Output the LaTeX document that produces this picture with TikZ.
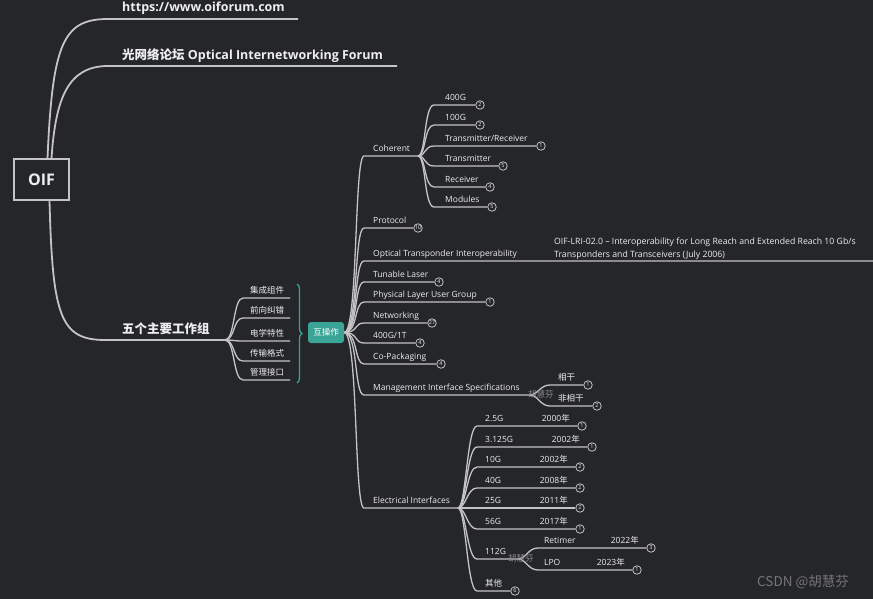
\documentclass[tikz,border=0pt]{standalone}
\usepackage{fontspec}
\setmainfont{Open Sans}
\newfontfamily\cjk{Noto Sans CJK SC}
\usetikzlibrary{calc,decorations.pathreplacing}
\definecolor{oifBack}{HTML}{25262A}
\definecolor{oifLine}{HTML}{C4C4C4}
\definecolor{oifText}{HTML}{EEEEEE}
\definecolor{oifTeal}{HTML}{3AA597}
\definecolor{oifMark}{HTML}{8C8C8C}

\begin{document}
\begin{tikzpicture}[x=1pt,y=-1pt,
    topic/.style={anchor=base west,inner sep=0pt,text=oifText,font=\fontsize{8.5}{10}\selectfont},
    zhtopic/.style={topic,font=\cjk\fontsize{8.5}{10}\selectfont},
    big/.style={anchor=base west,inner sep=0pt,text=oifText,font=\bfseries\fontsize{12.5}{15}\selectfont},
    badge/.style={circle,draw=oifLine,fill=oifBack,line width=0.8pt,minimum size=8.5pt,
                  inner sep=0pt,text=oifText,font=\fontsize{5.5}{5.5}\selectfont},
    link/.style={oifLine,line width=1.3pt},
    trunk/.style={oifLine,line width=1.8pt},
    wmark/.style={anchor=base west,inner sep=0pt,text=oifMark,font=\cjk\fontsize{8.5}{10}\selectfont}]
  \useasboundingbox (0,0) rectangle (873,599);
  \fill[oifBack] (0,0) rectangle (873,599);

  % root and its three branches
  \node[draw=oifLine,line width=1.3pt,minimum width=55pt,minimum height=41pt,inner sep=0pt,
        text=oifText,font=\bfseries\fontsize{16}{19}\selectfont] (oif) at (41.5,179.5) {OIF};
  \coordinate (urlS) at (108,19);  \coordinate (urlE) at (298,19);
  \node[big] (url) at (122,12) {https://www.oiforum.com};
  \draw[trunk] ([xshift=6pt]oif.north) .. controls +(5,-115) and +(-45,0) .. (urlS) -- (urlE);
  \coordinate (nameS) at (108,66); \coordinate (nameE) at (397,66);
  \node[big] (name) at (122,60) {{\cjk 光网络论坛} Optical Internetworking Forum};
  \draw[trunk] ([xshift=10pt]oif.north) .. controls +(4,-60) and +(-40,0) .. (nameS) -- (nameE);
  \coordinate (wgS) at (105,340);  \coordinate (wgE) at (225,340);
  \node[big,font=\cjk\bfseries\fontsize{12.5}{15}\selectfont] (wg) at (122,333) {五个主要工作组};
  \draw[trunk] ([xshift=8pt]oif.south) .. controls +(3,115) and +(-45,0) .. (wgS) -- (wgE);

  % five groups, brace, interop
  \foreach \y/\t [count=\i] in {298/集成组件,318/前向纠错,341/电学特性,361/传输格式,380/管理接口}{
    \coordinate (g\i) at (243,\y);
    \coordinate (ge\i) at (290,\y);
    \node[zhtopic] (gt\i) at (250,\y-5) {\t};
    \draw[link] (wgE) .. controls +(10,0) and +(-10,0) .. (g\i) -- (ge\i);
  }
  \coordinate (brT) at (297,284); \coordinate (brB) at (297,383);
  \draw[oifTeal,line width=1.3pt,decorate,decoration={brace,amplitude=5pt}] (brT) -- (brB);
  \node[fill=oifTeal,rounded corners=3pt,minimum width=36pt,minimum height=21pt,inner sep=0pt,
        text=white,font=\cjk\fontsize{8.5}{10}\selectfont] (iop) at (326,332.5) {互操作};

  % Coherent
  \coordinate (cohS) at (364,156); \coordinate (cohE) at (418,156);
  \node[topic] (coh) at (373,151.5) {Coherent};
  \draw[link] (iop.east) .. controls +(14,0) and +(-10,0) .. (cohS) -- (cohE);
  \foreach \y/\t/\bx/\n [count=\i] in {105/400G/480/2,125/100G/480/2,146/{Transmitter/Receiver}/541/1,
                                       166/Transmitter/503/5,187/Receiver/490/4,207/Modules/492/5}{
    \coordinate (coh\i) at (434,\y);
    \node[topic] (coht\i) at (445,\y-4.5) {\t};
    \node[badge] (cohb\i) at (\bx,\y) {\n};
    \draw[link] (cohE) .. controls +(8,0) and +(-10,0) .. (coh\i) -- (cohb\i);
  }

  % topics with a count
  \foreach \y/\t/\bx/\n/\k in {228/Protocol/418/10/pro,282/Tunable Laser/439/4/tun,
                               302/Physical Layer User Group/490/1/plug,323/Networking/432/27/net,
                               343/{400G/1T}/420/4/tb,364/Co-Packaging/441/4/cpo}{
    \coordinate (\k-s) at (364,\y);
    \node[topic] (\k) at (373,\y-4.5) {\t};
    \node[badge] (\k-b) at (\bx,\y) {\n};
    \draw[link] (iop.east) .. controls +(14,0) and +(-10,0) .. (\k-s) -- (\k-b);
  }

  % Optical Transponder Interoperability
  \coordinate (otiS) at (364,261); \coordinate (otiE) at (873,261);
  \node[topic] (oti) at (373,256.5) {Optical Transponder Interoperability};
  \node[topic,anchor=south west,align=left,font=\fontsize{8.7}{12.5}\selectfont] (otinote) at (554,259.5)
    {OIF-LRI-02.0 -- Interoperability for Long Reach and Extended Reach 10 Gb/s\\
     Transponders and Transceivers (July 2006)};
  \draw[link] (iop.east) .. controls +(14,0) and +(-10,0) .. (otiS) -- (otiE);

  % Management Interface Specifications
  \coordinate (mgS) at (364,395); \coordinate (mgE) at (530,395);
  \node[topic] (mg) at (373,390.5) {Management Interface Specifications};
  \draw[link] (iop.east) .. controls +(14,0) and +(-10,0) .. (mgS) -- (mgE);
  \foreach \y/\t/\bx/\n [count=\i] in {385/相干/588/1,406/非相干/597/2}{
    \coordinate (mg\i) at (550,\y);
    \node[zhtopic] (mgt\i) at (558,\y-5) {\t};
    \node[badge] (mgb\i) at (\bx,\y) {\n};
    \draw[link] (mgE) .. controls +(8,0) and +(-10,0) .. (mg\i) -- (mgb\i);
  }
  \node[wmark] (mgw) at (528,397) {胡慧芬};

  % Electrical Interfaces
  \coordinate (elS) at (364,508); \coordinate (elE) at (458,508);
  \node[topic] (el) at (373,503.5) {Electrical Interfaces};
  \draw[link] (iop.east) .. controls +(14,0) and +(-10,0) .. (elS) -- (elE);
  \foreach \y/\t/\yr/\bx/\n [count=\i] in {426/2.5G/2000/582/1,447/3.125G/2002/592/1,467/10G/2002/580/2,
                                            488/40G/2008/580/2,508/25G/2011/580/2,529/56G/2017/580/1}{
    \coordinate (ei\i) at (477,\y);
    \node[topic] (eit\i) at (485,\y-4.5) {\t};
    \node[badge] (eib\i) at (\bx,\y) {\n};
    \node[topic,anchor=base east] (eiy\i) at (\bx-12,\y-4.5) {\yr{\cjk 年}};
    \draw[link] (elE) .. controls +(8,0) and +(-10,0) .. (ei\i) -- (eib\i);
  }
  \coordinate (g112S) at (477,559); \coordinate (g112E) at (518,559);
  \node[topic] (g112) at (485,554.5) {112G};
  \draw[link] (elE) .. controls +(8,0) and +(-10,0) .. (g112S) -- (g112E);
  \foreach \y/\t/\yr/\bx/\n [count=\i] in {548/Retimer/2022/651/3,570/LPO/2023/637/1}{
    \coordinate (nx\i) at (538,\y);
    \node[topic] (nxt\i) at (544,\y-4.5) {\t};
    \node[badge] (nxb\i) at (\bx,\y) {\n};
    \node[topic,anchor=base east] (nxy\i) at (\bx-12,\y-4.5) {\yr{\cjk 年}};
    \draw[link] (g112E) .. controls +(8,0) and +(-10,0) .. (nx\i) -- (nxb\i);
  }
  \node[wmark] (g112w) at (508,561) {胡慧芬};
  \coordinate (othS) at (477,591);
  \node[zhtopic] (oth) at (485,586) {其他};
  \node[badge] (othb) at (515,591) {6};
  \draw[link] (elE) .. controls +(8,0) and +(-10,0) .. (othS) -- (othb);

  \node[anchor=base west,inner sep=0pt,text=oifMark!120,font=\cjk\fontsize{13.5}{15}\selectfont] (csdn)
    at (757,586) {CSDN @胡慧芬};
\end{tikzpicture}
\end{document}
